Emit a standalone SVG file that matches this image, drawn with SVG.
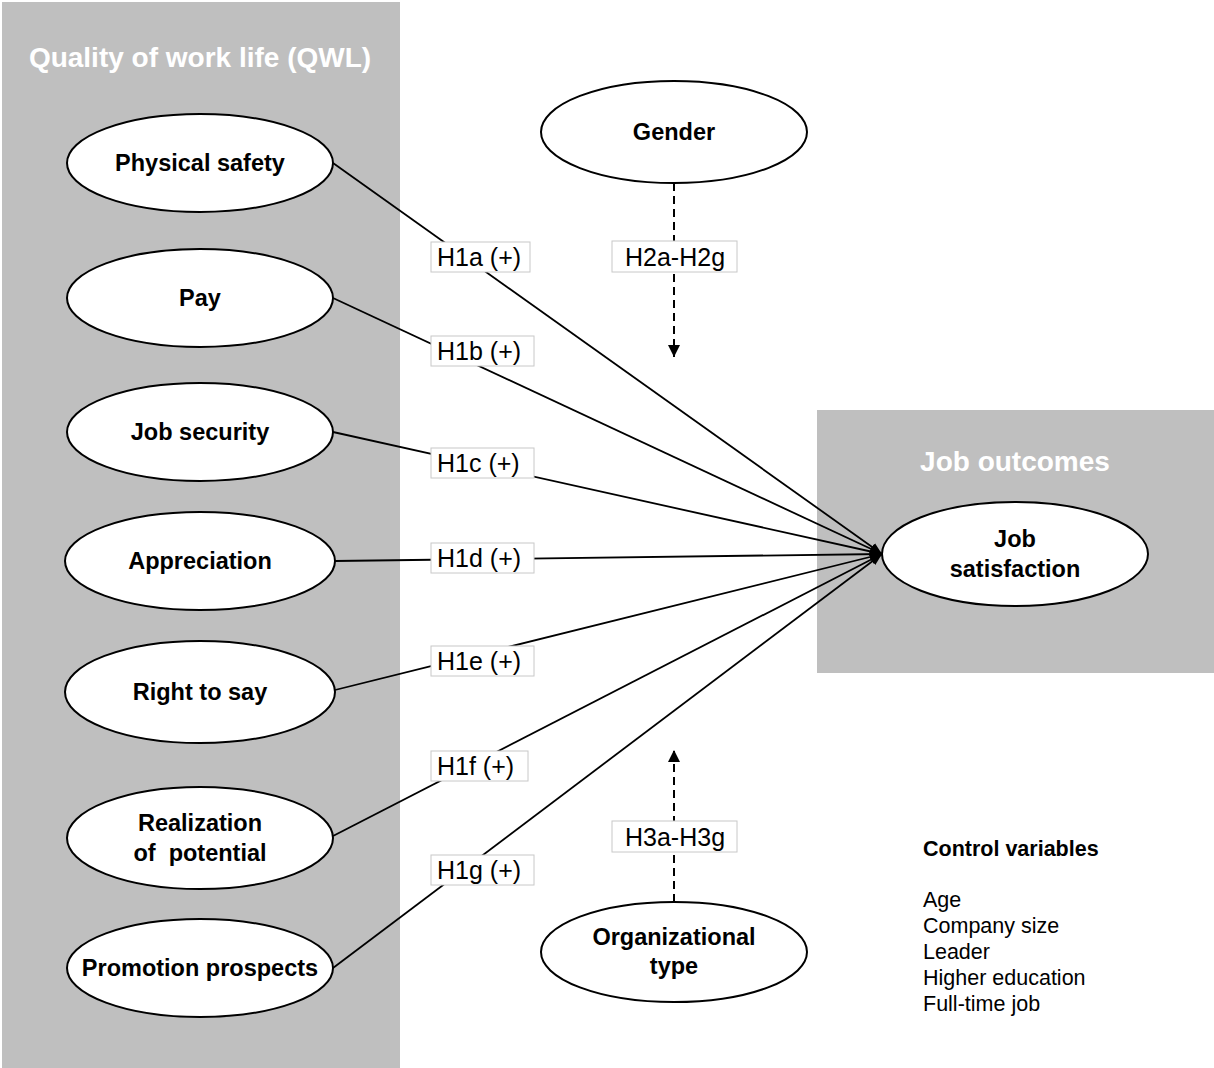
<svg xmlns="http://www.w3.org/2000/svg" width="1214" height="1068" viewBox="0 0 1214 1068">
<defs>
<marker id="ah" viewBox="0 0 10 10" refX="10" refY="5" markerWidth="12" markerHeight="12" markerUnits="userSpaceOnUse" orient="auto"><path d="M0,1 L10,5 L0,9 Z" fill="#000"/></marker>
<marker id="ahd" viewBox="0 0 10 10" refX="10" refY="5" markerWidth="12" markerHeight="12" markerUnits="userSpaceOnUse" orient="auto"><path d="M0,0 L10,5 L0,10 Z" fill="#000"/></marker>
</defs>
<style>
.bg{fill:#bfbfbf}
.node ellipse{fill:#fff;stroke:#000;stroke-width:2}
.nt{font-family:"Liberation Sans",Arial,sans-serif;font-weight:bold;font-size:23.5px;fill:#000;text-anchor:middle}
.title{font-family:"Liberation Sans",Arial,sans-serif;font-weight:bold;font-size:28px;fill:#fff;text-anchor:middle}
.edge{stroke:#000;stroke-width:1.8;fill:none}
.dash{stroke:#000;stroke-width:2;fill:none;stroke-dasharray:8,5}
.lb rect{fill:#fff;stroke:#c8c8c8;stroke-width:1}
.lt{font-family:"Liberation Sans",Arial,sans-serif;font-size:25px;fill:#000}
.cv{font-family:"Liberation Sans",Arial,sans-serif;font-size:21.5px;fill:#000}
</style>
<rect class="bg" x="2" y="2" width="398" height="1066"/>
<rect class="bg" x="817" y="410" width="397" height="263"/>
<text class="title" x="200" y="67">Quality of work life (QWL)</text>
<text class="title" x="1015" y="471">Job outcomes</text>
<g id="connectors">
<line class="edge" x1="333" y1="163" x2="882" y2="554" marker-end="url(#ah)"/>
<line class="edge" x1="333" y1="298" x2="882" y2="554" marker-end="url(#ah)"/>
<line class="edge" x1="333" y1="432" x2="882" y2="554" marker-end="url(#ah)"/>
<line class="edge" x1="335" y1="561" x2="882" y2="554" marker-end="url(#ah)"/>
<line class="edge" x1="335" y1="690" x2="882" y2="554" marker-end="url(#ah)"/>
<line class="edge" x1="333" y1="836" x2="882" y2="554" marker-end="url(#ah)"/>
<line class="edge" x1="333" y1="968" x2="882" y2="554" marker-end="url(#ah)"/>
<line class="dash" x1="674" y1="183" x2="674" y2="357" marker-end="url(#ahd)"/>
<line class="dash" x1="674" y1="902" x2="674" y2="750" marker-end="url(#ahd)"/>
<g class="lb"><rect x="431" y="242" width="99" height="30"/><text class="lt" x="437" y="266">H1a (+)</text></g>
<g class="lb"><rect x="431" y="336" width="103" height="30"/><text class="lt" x="437" y="360">H1b (+)</text></g>
<g class="lb"><rect x="431" y="448" width="103" height="30"/><text class="lt" x="437" y="472">H1c (+)</text></g>
<g class="lb"><rect x="431" y="543" width="103" height="30"/><text class="lt" x="437" y="567">H1d (+)</text></g>
<g class="lb"><rect x="431" y="646" width="103" height="30"/><text class="lt" x="437" y="670">H1e (+)</text></g>
<g class="lb"><rect x="431" y="751" width="97" height="30"/><text class="lt" x="437" y="775">H1f (+)</text></g>
<g class="lb"><rect x="431" y="855" width="103" height="30"/><text class="lt" x="437" y="879">H1g (+)</text></g>
<g class="lb"><rect x="612" y="241" width="125" height="31"/><text class="lt" x="625" y="266">H2a-H2g</text></g>
<g class="lb"><rect x="612" y="821" width="125" height="31"/><text class="lt" x="625" y="846">H3a-H3g</text></g>
</g>
<g id="n-physical" class="node"><ellipse cx="200" cy="163" rx="133" ry="49"/><text class="nt" x="200" y="171">Physical safety</text></g>
<g id="n-pay" class="node"><ellipse cx="200" cy="298" rx="133" ry="49"/><text class="nt" x="200" y="306">Pay</text></g>
<g id="n-jobsec" class="node"><ellipse cx="200" cy="432" rx="133" ry="49"/><text class="nt" x="200" y="440">Job security</text></g>
<g id="n-appr" class="node"><ellipse cx="200" cy="561" rx="135" ry="49"/><text class="nt" x="200" y="569">Appreciation</text></g>
<g id="n-right" class="node"><ellipse cx="200" cy="692" rx="135" ry="51"/><text class="nt" x="200" y="700">Right to say</text></g>
<g id="n-real" class="node"><ellipse cx="200" cy="838" rx="133" ry="51"/><text class="nt" x="200" y="831">Realization</text><text class="nt" x="200" y="861">of&#160; potential</text></g>
<g id="n-promo" class="node"><ellipse cx="200" cy="968" rx="133" ry="49"/><text class="nt" x="200" y="976">Promotion prospects</text></g>
<g id="n-gender" class="node"><ellipse cx="674" cy="132" rx="133" ry="51"/><text class="nt" x="674" y="140">Gender</text></g>
<g id="n-org" class="node"><ellipse cx="674" cy="952" rx="133" ry="50"/><text class="nt" x="674" y="945">Organizational</text><text class="nt" x="674" y="974">type</text></g>
<g id="n-js" class="node"><ellipse cx="1015" cy="554" rx="133" ry="52"/><text class="nt" x="1015" y="547">Job</text><text class="nt" x="1015" y="577">satisfaction</text></g>
<g id="controls">
<text class="cv" x="923" y="856" font-weight="bold">Control variables</text>
<text class="cv" x="923" y="907">Age</text>
<text class="cv" x="923" y="933">Company size</text>
<text class="cv" x="923" y="959">Leader</text>
<text class="cv" x="923" y="985">Higher education</text>
<text class="cv" x="923" y="1011">Full-time job</text>
</g>
</svg>
